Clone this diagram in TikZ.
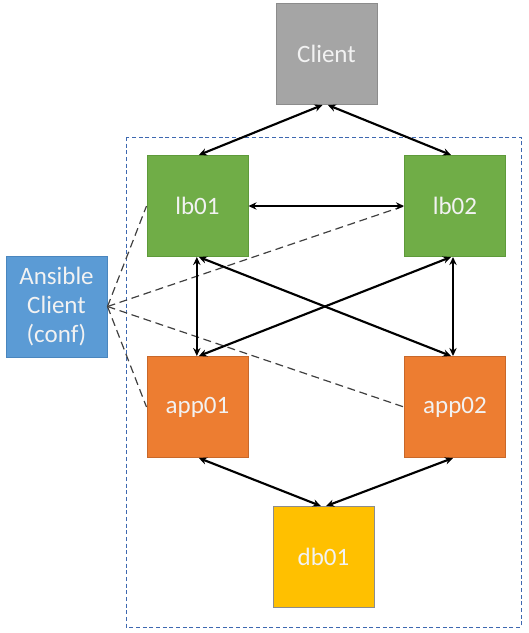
\documentclass[tikz,border=0pt]{standalone}
\usepackage{fontspec}
\setmainfont{Carlito}
\usetikzlibrary{arrows.meta}
\definecolor{cgray}{HTML}{A5A5A5}
\definecolor{cgrayb}{HTML}{8C8C8C}
\definecolor{cgreen}{HTML}{70AD47}
\definecolor{cgreenb}{HTML}{5E9A3A}
\definecolor{corange}{HTML}{ED7D31}
\definecolor{corangeb}{HTML}{C8682A}
\definecolor{cyellow}{HTML}{FFC000}
\definecolor{cyellowb}{HTML}{8C8C8C}
\definecolor{cblue}{HTML}{5B9BD5}
\definecolor{cblueb}{HTML}{4A86BE}
\definecolor{cframe}{HTML}{3E68B0}
\definecolor{ctext}{HTML}{F2F2F2}
\definecolor{cdash}{HTML}{404040}
\tikzset{
  box/.style={rectangle, minimum width=75.75pt, minimum height=75.75pt, inner sep=0pt,
    line width=0.75pt, text=ctext, font=\fontsize{18.75}{22}\selectfont, align=center},
  conn/.style={line width=1.6pt, black, {Stealth[length=6pt,width=5.5pt]}-{Stealth[length=6pt,width=5.5pt]}},
  ctrl/.style={line width=0.9pt, cdash, dash pattern=on 6pt off 3.5pt},
}
\begin{document}
\begin{tikzpicture}[x=0.75pt,y=-0.75pt]
\useasboundingbox (0,0) rectangle (529,633);
\draw[cframe, line width=0.75pt, dash pattern=on 3pt off 2pt] (126,137) rectangle (521,627);
\node[box, fill=cgray, draw=cgrayb] (client) at (326.5,54) {Client};
\node[box, fill=cgreen, draw=cgreenb] (lb01) at (197.5,206) {lb01};
\node[box, fill=cgreen, draw=cgreenb] (lb02) at (455,206) {lb02};
\node[box, fill=corange, draw=corangeb] (app01) at (197.5,407) {app01};
\node[box, fill=corange, draw=corangeb] (app02) at (455,407) {app02};
\node[box, fill=cyellow, draw=cyellowb] (db01) at (323.5,557) {db01};
\node[box, fill=cblue, draw=cblueb] (ans) at (56.5,306.5) {Ansible\\Client\\(conf)};
% dashed control lines
\draw[ctrl] (ans.east) -- (lb01.west);
\draw[ctrl] (ans.east) -- (lb02.west);
\draw[ctrl] (ans.east) -- (app01.west);
\draw[ctrl] (ans.east) -- (app02.west);
% connections
\draw[conn] ([xshift=-3pt]client.south) -- ([xshift=1pt]lb01.north);
\draw[conn] ([xshift=1pt]client.south) -- ([xshift=-3pt]lb02.north);
\draw[conn] (lb01.east) -- (lb02.west);
\draw[conn] ([xshift=-0.5pt]lb01.south) -- ([xshift=-0.5pt]app01.north);
\draw[conn] ([xshift=-1.5pt]lb02.south) -- ([xshift=-1.5pt]app02.north);
\draw[conn] ([xshift=1pt]lb01.south) -- ([xshift=-3pt]app02.north);
\draw[conn] ([xshift=-3pt]lb02.south) -- ([xshift=1pt]app01.north);
\draw[conn] ([xshift=1pt]app01.south) -- ([xshift=-2pt]db01.north);
\draw[conn] ([xshift=-1.5pt]app02.south) -- ([xshift=2pt]db01.north);
\end{tikzpicture}
\end{document}
